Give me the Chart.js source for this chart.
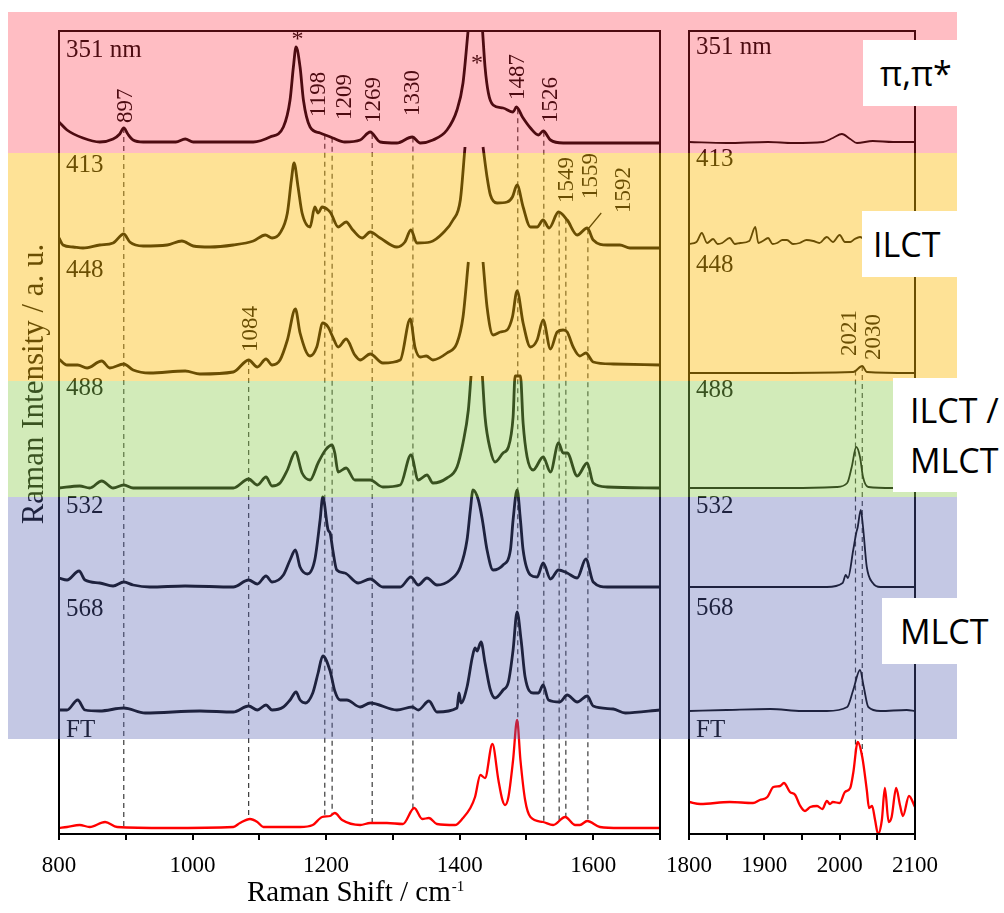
<!DOCTYPE html>
<html>
<head>
<meta charset="utf-8">
<script src="https://cdn.jsdelivr.net/npm/chart.js@4.4.0/dist/chart.umd.min.js"></script>
<style>
    body { margin: 0; background: #fff; width: 1004px; height: 913px; overflow: hidden; position: relative; }
    canvas { position: absolute; left: 0; top: 0; }
    .band { position: absolute; left: 8px; width: 949px; pointer-events: none; z-index: 2; }
    .tag { position: absolute; right: 0; background: #fff; z-index: 3; font-family: "Open Sans", "Liberation Sans", sans-serif; font-size: 34px; color: #000; box-sizing: border-box; white-space: nowrap; }
</style>
</head>
<body>
<canvas id="leftPanel" width="1004" height="913"></canvas>
<canvas id="rightPanel" width="1004" height="913"></canvas>

<div class="band" style="top:12px;height:141px;background:rgba(255,38,55,0.3)"></div>
<div class="band" style="top:153px;height:228px;background:rgba(252,186,5,0.42)"></div>
<div class="band" style="top:381px;height:116px;background:rgba(142,205,80,0.4)"></div>
<div class="band" style="top:497px;height:242px;background:rgba(86,97,177,0.35)"></div>

<div class="tag" style="left:863px;top:40px;height:66px;line-height:66px;padding-left:17px">π,π*</div>
<div class="tag" style="left:862px;top:211px;height:66px;line-height:66px;padding-left:11px">ILCT</div>
<div class="tag" style="left:893px;top:378px;height:114px;line-height:50px;padding-left:17px;padding-top:7px">ILCT /<br>MLCT</div>
<div class="tag" style="left:882px;top:598px;height:66px;line-height:66px;padding-left:18px">MLCT</div>

<script>
// excitation wavelengths, top to bottom
const spectrumLabels = ['351 nm', '413', '448', '488', '532', '568', 'FT'];
const offsets = [691, 588, 461, 346, 247, 123, 6];
const lineColors = ['#000', '#000', '#000', '#000', '#000', '#000', '#ff0000'];

const leftTicks = [800, 1000, 1200, 1400, 1600];
const rightTicks = [1800, 1900, 2000, 2100];

// [wavenumber, intensity above baseline]; null = cut off
const s351L = [[800,21],[812,13],[836,5],[861,1],[881,4],[891,9],[897,15],[903,9],[911,3],[926,1],[975,1],[989,4],[1001,1],[1091,1],[1116,6],[1136,16],[1146,43],[1151,76],[1155,96],[1161,76],[1166,43],[1176,16],[1191,10],[1210,5],[1228,1],[1251,3],[1266,11],[1281,1],[1306,0],[1329,6],[1341,0],[1360,3],[1381,13],[1396,33],[1405,60],[1413,115],[1424,null],[1434,115],[1438,76],[1443,50],[1450,38],[1465,35],[1480,31],[1485,36],[1494,26],[1506,15],[1518,8],[1525,12],[1536,3],[1555,0],[1700,0]];
const s413L = [[800,8],[806,1],[821,-1],[836,-2],[861,1],[881,3],[897,12],[906,4],[926,0],[962,1],[984,5],[1001,0],[1026,-1],[1061,1],[1091,5],[1109,11],[1119,8],[1131,13],[1142,33],[1148,66],[1152,83],[1158,59],[1164,33],[1176,19],[1183,39],[1188,33],[1194,39],[1203,36],[1207,33],[1218,19],[1230,24],[1240,16],[1254,8],[1266,14],[1281,8],[1306,-1],[1318,4],[1327,16],[1336,3],[1356,4],[1375,13],[1390,26],[1401,46],[1408,99],[1421,null],[1435,99],[1441,69],[1446,51],[1456,43],[1471,44],[1479,49],[1486,61],[1495,39],[1506,19],[1516,19],[1525,26],[1534,18],[1548,34],[1561,26],[1576,11],[1591,18],[1600,6],[1621,1],[1640,1],[1655,-2],[1700,-2]];
const s448L = [[800,14],[812,8],[828,8],[842,5],[864,12],[876,5],[897,9],[911,3],[936,0],[989,2],[1011,-1],[1061,1],[1084,13],[1097,6],[1110,14],[1119,8],[1131,13],[1142,33],[1154,64],[1161,40],[1176,17],[1186,26],[1195,50],[1203,46],[1210,36],[1218,26],[1230,34],[1243,18],[1251,13],[1266,19],[1285,10],[1311,13],[1326,54],[1333,26],[1341,16],[1350,17],[1360,13],[1381,20],[1396,30],[1405,56],[1413,111],[1424,null],[1435,111],[1441,66],[1450,38],[1461,41],[1471,43],[1479,56],[1486,82],[1495,50],[1506,26],[1516,33],[1525,53],[1536,24],[1546,41],[1555,43],[1561,41],[1570,26],[1580,17],[1589,20],[1600,11],[1630,9],[1700,8]];
const s488L = [[800,0],[831,2],[846,0],[864,7],[881,0],[897,3],[911,0],[989,0],[1061,0],[1084,9],[1097,3],[1110,11],[1119,2],[1131,5],[1142,18],[1154,36],[1164,15],[1176,8],[1188,25],[1199,38],[1209,43],[1213,35],[1218,16],[1230,20],[1243,8],[1266,8],[1285,1],[1311,3],[1327,33],[1338,8],[1351,13],[1360,5],[1381,10],[1396,21],[1405,45],[1413,78],[1417,112],[1426,null],[1434,112],[1438,71],[1446,38],[1453,26],[1465,35],[1473,41],[1480,71],[1483,112],[1491,112],[1495,65],[1501,31],[1510,18],[1525,31],[1536,16],[1548,45],[1555,35],[1561,35],[1576,12],[1591,25],[1600,5],[1621,1],[1700,0]];
const s532L = [[800,9],[812,7],[830,16],[839,7],[861,4],[881,1],[897,5],[911,2],[936,0],[989,1],[1061,0],[1084,7],[1097,3],[1110,11],[1119,5],[1136,12],[1146,27],[1154,37],[1161,20],[1172,13],[1183,27],[1191,67],[1195,90],[1203,57],[1206,54],[1210,37],[1216,17],[1228,14],[1248,4],[1266,8],[1285,0],[1311,0],[1327,10],[1338,2],[1351,9],[1366,2],[1386,7],[1401,20],[1411,47],[1416,77],[1420,97],[1428,87],[1434,67],[1441,37],[1450,17],[1465,22],[1476,37],[1480,67],[1486,97],[1491,67],[1495,37],[1506,12],[1516,10],[1525,24],[1536,8],[1548,17],[1561,14],[1576,9],[1589,28],[1600,5],[1621,0],[1700,0]];
const s568L = [[800,1],[812,1],[828,11],[839,1],[861,0],[897,3],[929,-2],[1011,0],[1061,-1],[1084,5],[1097,1],[1110,6],[1119,1],[1136,4],[1146,11],[1155,19],[1161,11],[1169,8],[1180,18],[1188,38],[1195,55],[1206,40],[1213,20],[1221,11],[1231,11],[1251,4],[1266,8],[1306,1],[1329,4],[1338,1],[1354,10],[1366,-1],[1396,3],[1399,18],[1402,8],[1411,24],[1419,54],[1423,63],[1426,60],[1432,69],[1438,48],[1446,21],[1453,13],[1465,21],[1473,29],[1480,61],[1486,99],[1492,71],[1498,34],[1510,18],[1518,18],[1525,26],[1533,11],[1550,9],[1561,16],[1576,9],[1591,15],[1600,5],[1630,2],[1648,-2],[1700,1]];
const sFTL = [[800,0],[812,1],[831,3],[846,1],[869,6],[887,1],[962,0],[1061,1],[1071,5],[1086,9],[1097,6],[1106,1],[1161,1],[1180,3],[1194,11],[1206,12],[1213,15],[1224,8],[1251,3],[1266,5],[1291,5],[1315,4],[1332,20],[1344,9],[1354,10],[1366,4],[1393,3],[1405,10],[1416,20],[1423,31],[1431,53],[1438,50],[1449,84],[1458,48],[1464,28],[1468,23],[1473,31],[1480,68],[1486,108],[1491,68],[1498,28],[1506,11],[1525,6],[1540,3],[1558,11],[1573,3],[1580,3],[1591,7],[1610,1],[1640,0],[1700,0]];

const s351R = [[1800,1],[1850,0],[1905,1],[1938,0],[1978,1],[1991,5],[2003,9],[2014,4],[2023,0],[2044,2],[2071,1],[2100,1]];
const s413R = [[1800,2],[1810,4],[1817,13],[1824,3],[1832,7],[1838,2],[1844,3],[1854,8],[1861,2],[1868,3],[1880,5],[1888,19],[1892,3],[1898,5],[1905,8],[1911,2],[1917,3],[1924,6],[1930,6],[1938,2],[1947,3],[1956,6],[1965,5],[1973,3],[1983,9],[1991,4],[2000,11],[2007,4],[2014,4],[2020,7],[2027,9],[2040,3],[2054,3],[2075,4],[2100,2]];
const s448R = [[1800,0],[1894,0],[2018,1],[2030,7],[2036,1],[2100,0]];
const s488R = [[1800,0],[1938,0],[1996,1],[2010,5],[2016,21],[2022,41],[2027,31],[2031,11],[2038,1],[2071,0],[2100,0]];
const s532R = [[1800,0],[1983,0],[2004,4],[2008,12],[2011,9],[2018,37],[2022,54],[2024,60],[2028,77],[2031,60],[2036,20],[2044,4],[2054,0],[2100,0]];
const s568R = [[1800,0],[1850,1],[1908,2],[1950,0],[1983,0],[2010,4],[2018,21],[2027,41],[2032,24],[2038,4],[2054,0],[2089,1],[2100,0]];
const sFTR = [[1800,26],[1815,24],[1854,26],[1885,25],[1894,28],[1904,31],[1912,41],[1921,42],[1926,45],[1934,36],[1941,33],[1947,23],[1954,17],[1961,21],[1970,22],[1977,19],[1983,27],[1987,24],[1991,26],[2000,25],[2007,36],[2014,40],[2018,55],[2024,86],[2030,71],[2036,38],[2039,20],[2043,22],[2047,8],[2051,-6],[2056,8],[2060,40],[2065,6],[2069,11],[2075,40],[2080,23],[2084,12],[2092,32],[2100,21]];

// assigned bands and the spectrum each marker line starts from
const leftPeaks = [897, 1084, 1198, 1209, 1269, 1330, 1487, 1526, 1549, 1559, 1592];
const leftPeakFrom = [0, 2, 0, 0, 0, 0, 0, 0, 1, 1, 1];
const rightPeaks = [2021, 2030];
const rightPeakFrom = [2, 2];

const serif = '"Liberation Serif", "Times New Roman", serif';

function valueAt(pts, x) {
    let prev = null;
    for (const p of pts) {
        if (p[1] === null) continue;
        if (p[0] >= x) {
            if (!prev) return p[1];
            const t = (x - prev[0]) / (p[0] - prev[0]);
            return prev[1] + t * (p[1] - prev[1]);
        }
        prev = p;
    }
    return prev[1];
}

function buildChart(id, cfg) {
    const datasets = cfg.series.map((pts, i) => ({
        data: pts.map(p => ({ x: p[0], y: p[1] === null ? null : offsets[i] + p[1] })),
        borderColor: lineColors[i],
        borderWidth: i === 6 ? 2.3 : cfg.lineWidth,
        pointRadius: 0,
        cubicInterpolationMode: 'monotone',
        spanGaps: false,
        fill: false
    }));

    const panelPlugin = {
        id: 'panel',
        beforeDatasetsDraw(chart) {
            const { ctx, scales: { x, y } } = chart;
            ctx.save();
            ctx.strokeStyle = '#3a3a3a';
            ctx.lineWidth = 1.2;
            ctx.setLineDash([5, 4]);
            cfg.peaks.forEach((pos, k) => {
                const from = cfg.peakFrom[k];
                const px = x.getPixelForValue(pos);
                const yTop = y.getPixelForValue(offsets[from] + valueAt(cfg.series[from], pos));
                const yBot = y.getPixelForValue(offsets[6] + valueAt(cfg.series[6], pos));
                ctx.beginPath();
                ctx.moveTo(px, yTop);
                ctx.lineTo(px, yBot);
                ctx.stroke();
            });
            ctx.restore();
        },
        afterDraw(chart) {
            const { ctx, chartArea, scales: { x } } = chart;
            ctx.save();
            ctx.strokeStyle = '#000';
            ctx.lineWidth = 2;
            ctx.strokeRect(chartArea.left, chartArea.top, chartArea.right - chartArea.left, chartArea.bottom - chartArea.top);

            ctx.fillStyle = '#000';
            ctx.font = '25px ' + serif;
            ctx.textAlign = 'left';
            ctx.textBaseline = 'alphabetic';
            spectrumLabels.forEach((t, i) => ctx.fillText(t, chartArea.left + 7, cfg.labelBase[i]));

            ctx.font = '23px ' + serif;
            cfg.peaks.forEach((pos, k) => {
                ctx.save();
                ctx.translate(x.getPixelForValue(pos) + cfg.labelDx[k] + 8, cfg.labelY[k]);
                ctx.rotate(-Math.PI / 2);
                ctx.fillText(String(pos), 0, 0);
                ctx.restore();
            });

            (cfg.stars || []).forEach(s => {
                ctx.textAlign = 'center';
                ctx.font = '24px ' + serif;
                ctx.fillText('*', x.getPixelForValue(s[0]), s[1]);
            });

            (cfg.leaders || []).forEach(l => {
                ctx.lineWidth = 1.2;
                ctx.beginPath();
                ctx.moveTo(x.getPixelForValue(l[0]), l[1]);
                ctx.lineTo(x.getPixelForValue(l[2]), l[3]);
                ctx.stroke();
            });

            if (cfg.titles) {
                ctx.save();
                ctx.font = '31px ' + serif;
                ctx.textAlign = 'center';
                ctx.translate(43, 384);
                ctx.rotate(-Math.PI / 2);
                ctx.fillText('Raman Intensity / a. u.', 0, 0);
                ctx.restore();

                ctx.textAlign = 'left';
                ctx.font = '29px ' + serif;
                const main = 'Raman Shift / cm';
                ctx.fillText(main, 247, 901);
                const w = ctx.measureText(main).width;
                ctx.font = '15px ' + serif;
                ctx.fillText('-1', 247 + w + 1, 891);
            }
            ctx.restore();
        }
    };

    return new Chart(document.getElementById(id), {
        type: 'line',
        data: { datasets },
        options: {
            responsive: false,
            animation: false,
            events: [],
            layout: { padding: { left: cfg.left, right: 1004 - cfg.right, top: 31, bottom: 0 } },
            plugins: { legend: { display: false }, tooltip: { enabled: false } },
            scales: {
                x: {
                    type: 'linear',
                    min: cfg.range[0],
                    max: cfg.range[1],
                    ticks: {
                        stepSize: cfg.step,
                        autoSkip: false,
                        maxRotation: 0,
                        padding: 12,
                        color: '#000',
                        font: { family: serif, size: 23 },
                        callback: v => cfg.tickLabels.includes(v) ? String(v) : ''
                    },
                    grid: { drawOnChartArea: false, drawTicks: true, tickLength: 6, color: '#000', lineWidth: 2 },
                    border: { display: true, color: '#000', width: 2 },
                    afterFit: s => { s.height = 913 - 834; }
                },
                y: { type: 'linear', min: 0, max: 803, display: false }
            }
        },
        plugins: [panelPlugin]
    });
}

buildChart('leftPanel', {
    left: 59, right: 660, range: [800, 1700], step: 100, tickLabels: leftTicks,
    series: [s351L, s413L, s448L, s488L, s532L, s568L, sFTL],
    lineWidth: 2.8,
    labelBase: [57, 172, 277, 395, 513, 616, 737],
    peaks: leftPeaks, peakFrom: leftPeakFrom,
    labelDx: [0, 0, -8, 11, 0, -2, -2, 5, 6, 23, 34],
    labelY: [123, 352, 117, 120, 123, 116, 100, 123, 203, 199, 213],
    stars: [[1157, 46], [1426, 70]],
    leaders: [[1612, 213, 1591, 230]],
    titles: true
});

buildChart('rightPanel', {
    left: 689, right: 915, range: [1800, 2100], step: 50, tickLabels: rightTicks,
    series: [s351R, s413R, s448R, s488R, s532R, s568R, sFTR],
    lineWidth: 1.8,
    labelBase: [54, 166, 272, 397, 513, 615, 737],
    peaks: rightPeaks, peakFrom: rightPeakFrom,
    labelDx: [-7, 10],
    labelY: [356, 360]
});
</script>
</body>
</html>
